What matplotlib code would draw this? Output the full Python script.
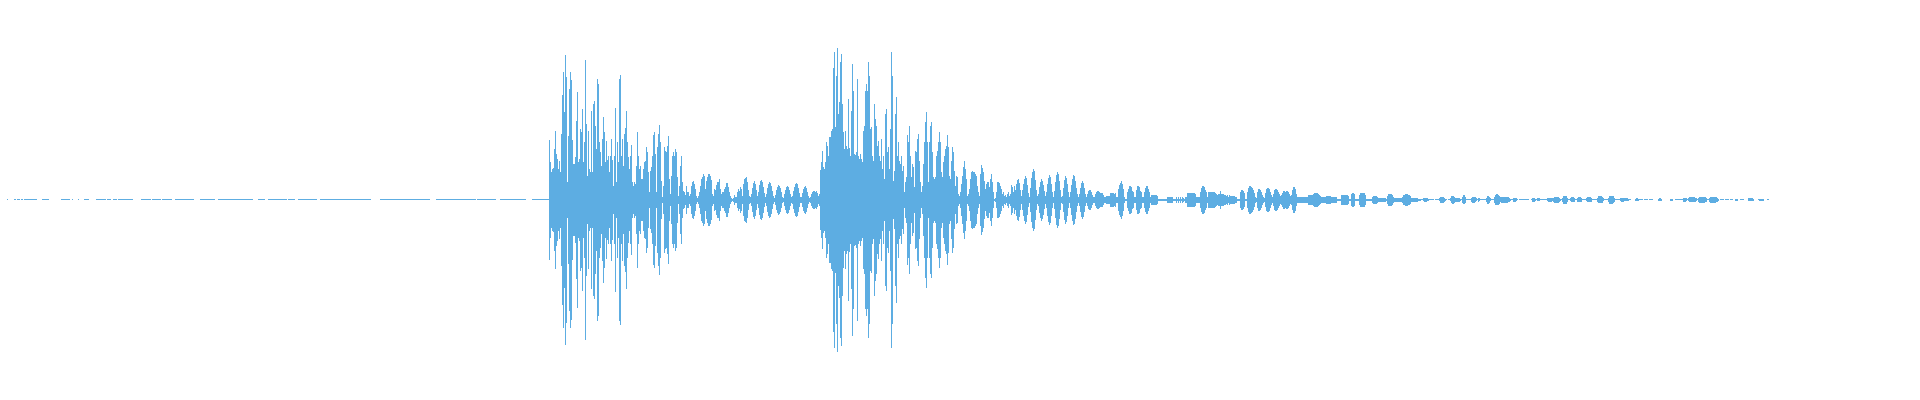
import numpy as np
import matplotlib
matplotlib.use("Agg")
import matplotlib.pyplot as plt

WAVE_COLOR = "#5dade2"

# near-silent lead-in: alternating run lengths (signal, gap, signal, gap, ...)
quiet_runs = [1, 6, 2, 1, 3, 1, 2, 1, 13, 5, 7, 12, 9, 2, 1, 5, 1, 5, 5, 7,
              10, 1, 4, 2, 4, 1, 15, 8, 10, 1, 9, 1, 10, 3, 19, 6, 15, 3, 35, 5,
              7, 3, 19, 1, 7, 3, 19, 3, 51, 9, 50, 6, 40, 1, 19, 4, 26, 6, 17]
quiet_level = 0.5

# peak amplitude per column, first hit
burst1_amps = [
    60, 38, 28, 31, 32, 51, 69, 46, 41, 31, 39, 28,
    66, 105, 128, 88, 145, 123, 18, 64, 111, 128, 120, 60, 36, 36, 43, 79, 108, 38, 41, 71,
    68, 91, 38, 58, 140, 76, 24, 69, 31, 28, 89, 28, 96, 99, 74, 51, 121, 116, 58, 48,
    34, 61, 83, 68, 38, 59, 40, 44, 28, 44, 61, 40, 14, 44, 92, 18, 58, 38, 121, 125,
    44, 61, 34, 66, 72, 89, 58, 43, 31, 44, 55, 18, 14, 18, 16, 34, 68, 44, 31, 34,
    21, 21, 31, 38, 39, 53, 48, 28, 8, 29, 33, 44, 65, 68, 46, 8, 53, 66, 75, 58,
    19, 3, 14, 53, 49, 48, 54, 64, 21, 6, 24, 44, 48, 44, 51, 48, 23, 4, 14, 34,
    44, 18, 9, 8, 5, 14, 8, 8, 4, 6, 14, 18, 19, 16, 11, 4, 2, 4, 8, 14,
    21, 23, 26, 24, 11, 19, 23, 26, 26, 24, 20, 6, 4, 11, 10, 15, 18, 18, 21, 11,
    6, 8, 8, 11, 13, 17, 17, 13, 8, 4, 2, 1, 2, 5, 3, 3, 8, 11, 9, 13,
    11, 4, 16, 21, 22, 23, 18, 10, 4, 3, 6, 12, 17, 19, 16, 10, 4, 8, 15, 19,
    20, 18, 13, 7, 3, 6, 12, 16, 18, 17, 14, 9, 4, 2, 5, 10, 13, 15, 14, 12,
    8, 3, 2, 6, 10, 13, 14, 13, 10, 6, 3, 4, 9, 13, 16, 17, 16, 12, 7, 3,
    3, 7, 11, 13, 14, 12, 8, 4, 2, 3, 6, 8, 9, 9, 8, 9, 7, 4, 6, 30,
]

# second hit
burst2_amps = [
    38, 49, 33, 31, 38, 58, 54, 44, 63, 63, 69, 71, 132, 148, 73, 124, 152, 86, 98, 138,
    146, 96, 68, 51, 69, 54, 51, 101, 52, 44, 89, 136, 109, 46, 45, 48, 121, 44, 41, 46,
    41, 38, 69, 74, 109, 116, 109, 138, 124, 71, 73, 44, 39, 96, 81, 74, 54, 59, 44, 39,
    61, 31, 44, 21, 86, 91, 48, 53, 31, 71, 148, 124, 19, 29, 86, 103, 44, 58, 39, 36,
    44, 29, 34, 8, 18, 23, 65, 58, 74, 44, 23, 36, 33, 13, 49, 48, 61, 66, 39, 18,
    8, 14, 36, 58, 78, 88, 58, 18, 58, 74, 78, 48, 23, 21, 23, 44, 49, 58, 68, 58,
    28, 23, 38, 44, 51, 54, 65, 53, 24, 21, 39, 53, 48, 29, 14, 24, 23, 6, 4, 8,
    16, 24, 33, 39, 31, 21, 4, 6, 11, 21, 28, 29, 28, 28, 26, 24, 14, 8, 4, 26,
    35, 32, 28, 19, 11, 16, 18, 18, 13, 21, 26, 18, 8, 1, 2, 8, 18, 18, 17, 14,
    11, 6, 8, 4, 5, 3, 6, 8, 4, 6, 15, 13, 8, 14, 10, 16, 20, 21, 17, 10,
    4, 10, 16, 21, 24, 22, 15, 7, 3, 12, 22, 28, 31, 29, 20, 10, 4, 6, 13, 18,
    21, 19, 15, 9, 4, 8, 16, 22, 25, 23, 16, 8, 3, 9, 18, 25, 28, 26, 19, 10,
    3, 4, 12, 20, 24, 22, 16, 8, 3, 8, 15, 21, 25, 24, 19, 12, 6, 3, 6, 12,
    17, 19, 17, 12, 6, 3, 6, 9, 10, 10, 8, 5, 3, 3, 6, 8, 9, 9, 8, 7,
]

# decaying tail
tail_amps = [
    7, 7, 5, 3, 3, 4, 4, 4, 4, 7, 7, 7, 7, 6, 7, 3, 3, 11, 15, 17,
    19, 16, 11, 3, 1, 1, 8, 11, 14, 14, 13, 9, 8, 3, 3, 10, 14, 14, 13, 9,
    8, 3, 3, 8, 12, 14, 14, 11, 8, 3, 5, 5, 5, 5, 5, 5, 4, 1, 1, 1,
    1, 1, 1, 1, 1, 1, 3, 3, 3, 3, 3, 3, 1, 1, 1, 3, 1, 3, 1, 3,
    1, 3, 2, 1, 3, 3, 7, 7, 7, 7, 7, 7, 7, 7, 6, 3, 3, 3, 3, 8,
    12, 14, 14, 13, 10, 8, 3, 8, 8, 8, 8, 8, 8, 8, 7, 6, 5, 6, 6, 9,
    6, 6, 6, 5, 5, 4, 5, 3, 5, 4, 4, 4, 4, 4, 3, 3, 1, 1, 1, 8,
    10, 10, 9, 7, 1, 1, 8, 12, 14, 14, 13, 12, 10, 7, 3, 2, 8, 11, 11, 10,
    8, 5, 3, 2, 7, 11, 12, 12, 11, 8, 5, 3, 6, 10, 11, 11, 10, 8, 6, 4,
    5, 7, 9, 9, 8, 9, 9, 8, 6, 4, 5, 10, 13, 13, 11, 6, 3, 3, 3, 3,
    3, 3, 3, 3, 3, 3, 3, 5, 5, 5, 5, 5, 6, 7, 7, 7, 7, 6, 5, 4,
    3, 3, 3, 3, 3, 4, 4, 4, 4, 4, 3, 3, 3, 3, 3, 3, 1, 1, 1, 1,
    5, 5, 5, 5, 5, 5, 5, 4, 1, 1, 6, 7, 7, 6, 1, 1, 1, 1, 5, 7,
    7, 7, 7, 7, 5, 1, 1, 1, 1, 1, 1, 3, 4, 4, 4, 4, 3, 2, 2, 2,
    2, 2, 2, 2, 2, 1, 4, 6, 6, 6, 6, 5, 3, 2, 2, 2, 2, 2, 2, 2,
    2, 3, 5, 5, 6, 6, 6, 5, 5, 4, 2, 2, 2, 2, 2, 2, 2, 1, 1, 1,
    0.5, 0.5, 1.5, 2, 2, 2, 1.5, 1, 0.5, 0.5, 0.5, 0.5, 0.5, 0, 0.5, 0.5, 0.5, 0.5, 1.5, 3,
    3, 3, 3, 2, 1, 0.5, 0, 0.5, 0.5, 1.5, 3.5, 4, 4, 3, 2, 2, 2, 2, 2, 1,
    0.5, 3, 4.5, 4.5, 3, 0.5, 0.5, 0.5, 0.5, 0.5, 2, 3, 3, 3, 2.5, 1.5, 0.5, 2, 1.5, 0.5,
    0.5, 0.5, 0.5, 0.5, 0.5, 2, 4, 4, 3, 1.5, 0.5, 0.5, 0.5, 3, 5, 5.5, 5.5, 5, 4, 2.5,
    3, 3, 3, 3, 3, 3, 3, 2.5, 2, 1, 0.5, 0.5, 2, 2, 2, 1.5, 0.5, 0, 0.5, 0.5,
    0.5, 0.5, 0.5, 0.5, 0.5, 0.5, 0.5, 0.5, 0, 0, 0.5, 2, 2, 2, 1, 0.5, 1.5, 1.5, 1.5, 0.5,
    0.5, 0.5, 0.5, 0.5, 0.5, 0.5, 1.5, 2, 2, 2, 2, 1.5, 2, 3, 3, 3, 3, 3, 2, 1,
    0.5, 2, 4, 4, 4, 4, 2, 0.5, 0.5, 1.5, 2.5, 2.5, 2.5, 2, 0.5, 0.5, 2, 2.5, 2.5, 2.5,
    2, 0.5, 0.5, 0.5, 0.5, 1.5, 2.5, 2.5, 2.5, 2.5, 2, 0.5, 0.5, 0.5, 0.5, 0.5, 2, 3.5, 3.5, 3.5,
    3.5, 3, 1.5, 0.5, 0.5, 0.5, 0.5, 2, 4, 4, 4, 4, 3.5, 2, 0.5, 0.5, 0.5, 0.5, 0.5, 1.5,
    2, 2, 2, 1.5, 1.5, 1.5, 1.5, 1, 0.5, 0.5, 0, 0, 0, 0, 1, 1.5, 1.5, 1, 0.5, 0.5,
    0.5, 0.5, 0, 0.5, 0.5, 0.5, 0.5, 0, 0.5, 0.5, 0.5, 0.5, 0, 0, 0, 0, 0, 1, 1.5, 1.5,
    1, 0, 0, 0, 0, 0, 0, 0, 0, 1, 1, 1, 0, 0, 0.5, 0.5, 0.5, 0.5, 0.5, 0.5,
    0.5, 0.5, 2, 2, 2, 1.5, 0.5, 1.5, 2.5, 2.5, 2.5, 2.5, 2.5, 2.5, 2, 1.5, 0.5, 2, 3, 3,
    3, 3, 3, 3, 2.5, 2, 0.5, 0.5, 2, 3, 3, 3, 3, 3, 3, 2.5, 2, 1, 0, 0.5,
    0.5, 0.5, 0.5, 0, 0.5, 0.5, 0.5, 0.5, 0, 0.5, 0.5, 0.5, 0, 0, 1, 1, 1, 0, 0, 0.5,
    0.5, 0.5, 0.5, 0, 0, 0, 0, 1.5, 1.5, 1.5, 1.5, 1.5, 1, 0, 0, 0, 0, 0.5, 1, 1,
    1, 1, 1, 0, 0, 0, 0.5, 0.5,
]

quiet = []
for i, n in enumerate(quiet_runs):
    quiet += [quiet_level if i % 2 == 0 else 0.0] * n

amp = np.array(quiet + burst1_amps + burst2_amps + tail_amps, dtype=float)
x = np.arange(len(amp))

fig = plt.figure(figsize=(19.2, 4), dpi=100)
ax = fig.add_axes([0, 0, 1, 1])
ax.bar(x, 2 * amp, bottom=-amp, width=1.0, align="edge",
       color=WAVE_COLOR, linewidth=0)
ax.set_xlim(-7, 1913)
ax.set_ylim(-200.5, 199.5)
ax.axis("off")

fig.savefig("out.png", dpi=100)
